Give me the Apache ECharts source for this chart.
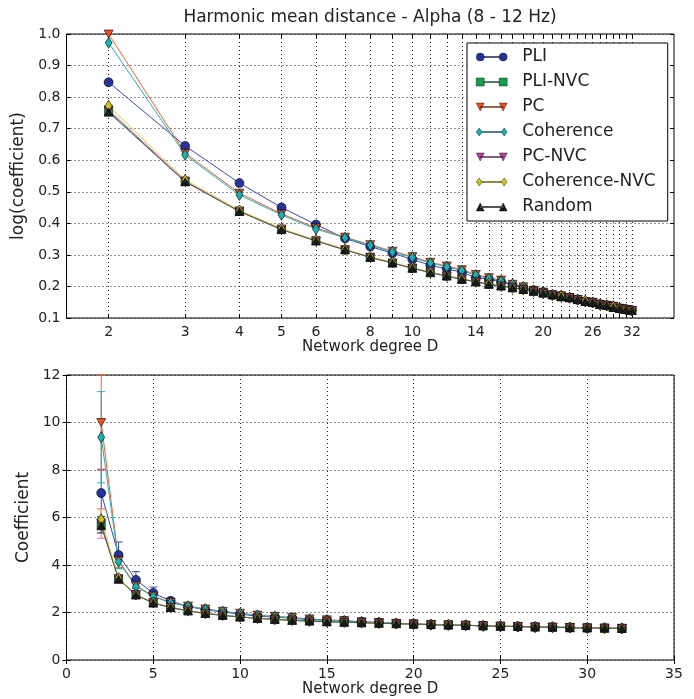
<!DOCTYPE html>
<html>
<head>
<meta charset="utf-8">
<script src="https://cdn.jsdelivr.net/npm/echarts@6/dist/echarts.min.js"></script>
<style>
  html, body { margin: 0; padding: 0; background: #fff; }
  #chart { width: 694px; height: 699px; }
</style>
</head>
<body>
<div id="chart"></div>
<script>
// network degree D
var degrees = [2, 3, 4, 5, 6, 7, 8, 9, 10, 11, 12, 13, 14, 15, 16, 17, 18, 19, 20, 21, 22, 23, 24, 25, 26, 27, 28, 29, 30, 31, 32];

// coefficient per method (bottom panel), top panel shows log10 of it
var pli      = [7.03, 4.42, 3.37, 2.82, 2.49, 2.25, 2.12, 2.02, 1.93, 1.85, 1.80, 1.76, 1.69, 1.67, 1.64, 1.60, 1.57, 1.54, 1.52, 1.49, 1.48, 1.46, 1.44, 1.42, 1.41, 1.39, 1.38, 1.37, 1.35, 1.34, 1.33];
var pliNvc   = [5.70, 3.41, 2.74, 2.40, 2.21, 2.07, 1.96, 1.88, 1.81, 1.76, 1.71, 1.67, 1.64, 1.61, 1.59, 1.57, 1.55, 1.53, 1.51, 1.49, 1.47, 1.46, 1.44, 1.42, 1.41, 1.39, 1.38, 1.36, 1.35, 1.34, 1.33];
var pc       = [10.0, 4.19, 3.13, 2.69, 2.43, 2.27, 2.15, 2.05, 1.97, 1.89, 1.84, 1.79, 1.73, 1.69, 1.66, 1.61, 1.58, 1.54, 1.52, 1.49, 1.48, 1.46, 1.44, 1.42, 1.41, 1.39, 1.38, 1.37, 1.35, 1.34, 1.33];
var coh      = [9.38, 4.14, 3.09, 2.67, 2.41, 2.26, 2.14, 2.04, 1.96, 1.88, 1.83, 1.78, 1.72, 1.68, 1.65, 1.61, 1.58, 1.54, 1.52, 1.49, 1.48, 1.46, 1.44, 1.42, 1.41, 1.39, 1.38, 1.37, 1.35, 1.34, 1.33];
var pcNvc    = [5.75, 3.42, 2.75, 2.41, 2.21, 2.07, 1.96, 1.88, 1.81, 1.76, 1.71, 1.67, 1.64, 1.61, 1.59, 1.57, 1.55, 1.53, 1.51, 1.49, 1.47, 1.46, 1.44, 1.42, 1.41, 1.39, 1.38, 1.37, 1.35, 1.34, 1.33];
var cohNvc   = [5.92, 3.45, 2.76, 2.42, 2.22, 2.08, 1.97, 1.89, 1.82, 1.76, 1.71, 1.68, 1.64, 1.62, 1.59, 1.57, 1.55, 1.53, 1.51, 1.49, 1.48, 1.46, 1.44, 1.43, 1.41, 1.39, 1.38, 1.37, 1.35, 1.34, 1.33];
var random   = [5.65, 3.40, 2.74, 2.40, 2.21, 2.07, 1.96, 1.88, 1.81, 1.75, 1.71, 1.67, 1.64, 1.61, 1.59, 1.57, 1.55, 1.53, 1.51, 1.49, 1.47, 1.46, 1.44, 1.42, 1.41, 1.39, 1.38, 1.36, 1.35, 1.34, 1.33];

// error bar half heights (bottom panel)
var pliErr    = [1.00, 0.55, 0.35, 0.25, 0.12, 0.08, 0.06, 0.05, 0.05, 0.04, 0.04, 0.04, 0.04, 0.04, 0.04, 0.04, 0.04, 0.04, 0.04, 0.04, 0.04, 0.04, 0.04, 0.04, 0.04, 0.04, 0.04, 0.04, 0.04, 0.04, 0.04];
var pliNvcErr = [0.35, 0.12, 0.08, 0.06, 0.05, 0.04, 0.04, 0.04, 0.03, 0.03, 0.03, 0.03, 0.03, 0.03, 0.03, 0.03, 0.03, 0.03, 0.03, 0.03, 0.03, 0.03, 0.03, 0.03, 0.03, 0.03, 0.03, 0.03, 0.03, 0.03, 0.03];
var pcErr     = [2.00, 0.30, 0.20, 0.12, 0.08, 0.06, 0.05, 0.05, 0.04, 0.04, 0.04, 0.04, 0.04, 0.04, 0.04, 0.04, 0.04, 0.04, 0.04, 0.04, 0.04, 0.04, 0.04, 0.04, 0.04, 0.04, 0.04, 0.04, 0.04, 0.04, 0.04];
var cohErr    = [1.92, 0.30, 0.18, 0.10, 0.08, 0.06, 0.05, 0.05, 0.04, 0.04, 0.04, 0.04, 0.04, 0.04, 0.04, 0.04, 0.04, 0.04, 0.04, 0.04, 0.04, 0.04, 0.04, 0.04, 0.04, 0.04, 0.04, 0.04, 0.04, 0.04, 0.04];
var pcNvcErr  = [0.62, 0.15, 0.10, 0.07, 0.05, 0.04, 0.04, 0.04, 0.03, 0.03, 0.03, 0.03, 0.03, 0.03, 0.03, 0.03, 0.03, 0.03, 0.03, 0.03, 0.03, 0.03, 0.03, 0.03, 0.03, 0.03, 0.03, 0.03, 0.03, 0.03, 0.03];
var cohNvcErr = [0.40, 0.12, 0.08, 0.06, 0.05, 0.04, 0.04, 0.04, 0.03, 0.03, 0.03, 0.03, 0.03, 0.03, 0.03, 0.03, 0.03, 0.03, 0.03, 0.03, 0.03, 0.03, 0.03, 0.03, 0.03, 0.03, 0.03, 0.03, 0.03, 0.03, 0.03];
var randomErr = [0.30, 0.10, 0.07, 0.05, 0.04, 0.04, 0.03, 0.03, 0.03, 0.03, 0.03, 0.03, 0.03, 0.03, 0.03, 0.03, 0.03, 0.03, 0.03, 0.03, 0.03, 0.03, 0.03, 0.03, 0.03, 0.03, 0.03, 0.03, 0.03, 0.03, 0.03];

// tick positions of the log axis
var logTicks  = [2, 3, 4, 5, 6, 7, 8, 9, 10, 11, 12, 13, 14, 15, 16, 17, 18, 19, 20, 21, 22, 23, 24, 25, 26, 27, 28, 29, 30, 31, 32];
var logLabels = [2, 3, 4, 5, 6, 8, 10, 14, 20, 26, 32];

var FONT = "DejaVu Sans";

// marker shapes
var downTri = "path://M0,0L10,0L5,10Z";
var icons = {
  circle: "path://M0,5A4,4,0,1,1,8,5A4,4,0,1,1,0,5ZM8,4.5L23,4.5L23,5.5L8,5.5ZM23,5A4,4,0,1,1,31,5A4,4,0,1,1,23,5Z",
  square: "path://M0,1L8,1L8,9L0,9ZM8,4.5L23,4.5L23,5.5L8,5.5ZM23,1L31,1L31,9L23,9Z",
  down: "path://M0,1L8,1L4,9ZM4,4.5L27,4.5L27,5.5L4,5.5ZM23,1L31,1L27,9Z",
  diamond: "path://M3,1L6,5L3,9L0,5ZM6,4.5L25,4.5L25,5.5L6,5.5ZM28,1L31,5L28,9L25,5Z",
  up: "path://M0,9L8,9L4,1ZM4,4.5L27,4.5L27,5.5L4,5.5ZM23,9L31,9L27,1Z"
};

var methods = [
  { name: "PLI", vals: pli, err: pliErr, symbol: "circle", size: 9, icon: icons.circle, fill: "#27339a", line: "#3a48b0" },
  { name: "PLI-NVC", vals: pliNvc, err: pliNvcErr, symbol: "rect", size: 8, icon: icons.square, fill: "#14a050", line: "#1e9a50" },
  { name: "PC", vals: pc, err: pcErr, symbol: downTri, size: [9, 8], icon: icons.down, fill: "#f0501e", line: "#fa5a30" },
  { name: "Coherence", vals: coh, err: cohErr, symbol: "diamond", size: [7, 11], icon: icons.diamond, fill: "#1ab0b0", line: "#20b5b0" },
  { name: "PC-NVC", vals: pcNvc, err: pcNvcErr, symbol: downTri, size: [9, 8], icon: icons.down, fill: "#b0449f", line: "#dd66cc" },
  { name: "Coherence-NVC", vals: cohNvc, err: cohNvcErr, symbol: "diamond", size: [7, 11], icon: icons.diamond, fill: "#d0c41a", line: "#d8d040" },
  { name: "Random", vals: random, err: randomErr, symbol: "triangle", size: [9, 8], icon: icons.up, fill: "#1a1a1a", line: "#555555" }
];

var gridLine = { show: true, lineStyle: { color: "#222", width: 1, type: [1, 3] } };
var tickStyle = { inside: true, length: 4, lineStyle: { color: "#000", width: 1 } };
var labelStyle = { color: "#222", fontSize: 14, fontFamily: FONT };
var nameStyle = { color: "#222", fontSize: 15, fontFamily: FONT };
var yNameStyle = { color: "#222", fontSize: 17, fontFamily: FONT };

var series = [];
methods.forEach(function (m) {
  series.push({
    name: m.name, type: "line", xAxisIndex: 0, yAxisIndex: 0,
    data: degrees.map(function (d, i) { return [d, Math.log10(m.vals[i])]; }),
    symbol: m.symbol, symbolSize: m.size,
    itemStyle: { color: m.fill, borderColor: "#000", borderWidth: 0.6 },
    lineStyle: { color: m.line, width: 1 },
    animation: false, z: 3
  });
});
methods.forEach(function (m) {
  series.push({
    name: m.name, type: "custom", xAxisIndex: 1, yAxisIndex: 1,
    data: degrees.map(function (d, i) { return [d, m.vals[i] - m.err[i], m.vals[i] + m.err[i]]; }),
    renderItem: function (params, api) {
      var lo = api.coord([api.value(0), api.value(1)]);
      var hi = api.coord([api.value(0), api.value(2)]);
      var st = { stroke: m.line, lineWidth: 1 };
      return {
        type: "group",
        children: [
          { type: "line", shape: { x1: lo[0], y1: lo[1], x2: hi[0], y2: hi[1] }, style: st },
          { type: "line", shape: { x1: lo[0] - 4, y1: lo[1], x2: lo[0] + 4, y2: lo[1] }, style: st },
          { type: "line", shape: { x1: hi[0] - 4, y1: hi[1], x2: hi[0] + 4, y2: hi[1] }, style: st }
        ]
      };
    },
    animation: false, z: 2
  });
  series.push({
    name: m.name, type: "line", xAxisIndex: 1, yAxisIndex: 1,
    data: degrees.map(function (d, i) { return [d, m.vals[i]]; }),
    symbol: m.symbol, symbolSize: m.size,
    itemStyle: { color: m.fill, borderColor: "#000", borderWidth: 0.6 },
    lineStyle: { color: m.line, width: 1 },
    animation: false, z: 3
  });
});

var chart = echarts.init(document.getElementById("chart"), null, { renderer: "canvas" });
chart.setOption({
  backgroundColor: "#fff",
  animation: false,
  title: {
    text: "Harmonic mean distance - Alpha (8 - 12 Hz)",
    left: 370, top: 9, padding: 0, textAlign: "center",
    textStyle: { fontFamily: FONT, fontSize: 17, fontWeight: "normal", color: "#222" }
  },
  legend: {
    orient: "vertical", left: 467, top: 43,
    padding: [5, 12, 5, 9], itemGap: 7, itemWidth: 31, itemHeight: 8,
    backgroundColor: "#fff", borderColor: "#000", borderWidth: 1,
    textStyle: { fontFamily: FONT, fontSize: 17, color: "#222", lineHeight: 18, padding: [0, 0, 0, 10] },
    data: methods.map(function (m) {
      return { name: m.name, icon: m.icon, itemStyle: { borderWidth: 0.4 } };
    })
  },
  grid: [
    { left: 66.5, right: 20, top: 34, height: 284, show: true, borderColor: "#000", borderWidth: 1, backgroundColor: "transparent" },
    { left: 66.5, right: 20, top: 375, height: 285, show: true, borderColor: "#000", borderWidth: 1, backgroundColor: "transparent" }
  ],
  xAxis: [
    {
      gridIndex: 0, type: "log", logBase: 10, min: 1.6, max: 40,
      name: "Network degree D", nameLocation: "middle", nameGap: 21, nameTextStyle: nameStyle,
      axisLine: { show: false },
      axisTick: Object.assign({ customValues: logTicks }, tickStyle),
      axisLabel: Object.assign({ customValues: logLabels, margin: 7,
        formatter: function (v) { return String(Math.round(v)); } }, labelStyle),
      splitLine: gridLine
    },
    {
      gridIndex: 1, type: "value", min: 0, max: 35, interval: 5,
      name: "Network degree D", nameLocation: "middle", nameGap: 22, nameTextStyle: nameStyle,
      axisLine: { show: false },
      axisTick: tickStyle,
      axisLabel: Object.assign({ margin: 7 }, labelStyle),
      splitLine: gridLine
    },
    {
      gridIndex: 0, type: "log", logBase: 10, min: 1.6, max: 40, position: "top",
      axisLine: { show: false },
      axisTick: Object.assign({ customValues: logTicks }, tickStyle),
      axisLabel: { show: false }, splitLine: { show: false }
    },
    {
      gridIndex: 1, type: "value", min: 0, max: 35, interval: 5, position: "top",
      axisLine: { show: false }, axisTick: tickStyle,
      axisLabel: { show: false }, splitLine: { show: false }
    }
  ],
  yAxis: [
    {
      gridIndex: 0, type: "value", min: 0.1, max: 1.0, interval: 0.1,
      name: "log(coefficient)", nameLocation: "middle", nameGap: 34, nameTextStyle: yNameStyle,
      axisLine: { show: false }, axisTick: tickStyle,
      axisLabel: Object.assign({ margin: 6, showMinLabel: true, showMaxLabel: true,
        formatter: function (v) { return v.toFixed(1); } }, labelStyle),
      splitLine: gridLine
    },
    {
      gridIndex: 1, type: "value", min: 0, max: 12, interval: 2,
      name: "Coefficient", nameLocation: "middle", nameGap: 28, nameTextStyle: yNameStyle,
      axisLine: { show: false }, axisTick: tickStyle,
      axisLabel: Object.assign({ margin: 6 }, labelStyle),
      splitLine: gridLine
    },
    {
      gridIndex: 0, type: "value", min: 0.1, max: 1.0, interval: 0.1, position: "right",
      axisLine: { show: false }, axisTick: tickStyle,
      axisLabel: { show: false }, splitLine: { show: false }
    },
    {
      gridIndex: 1, type: "value", min: 0, max: 12, interval: 2, position: "right",
      axisLine: { show: false }, axisTick: tickStyle,
      axisLabel: { show: false }, splitLine: { show: false }
    }
  ],
  series: series
});
</script>
</body>
</html>
